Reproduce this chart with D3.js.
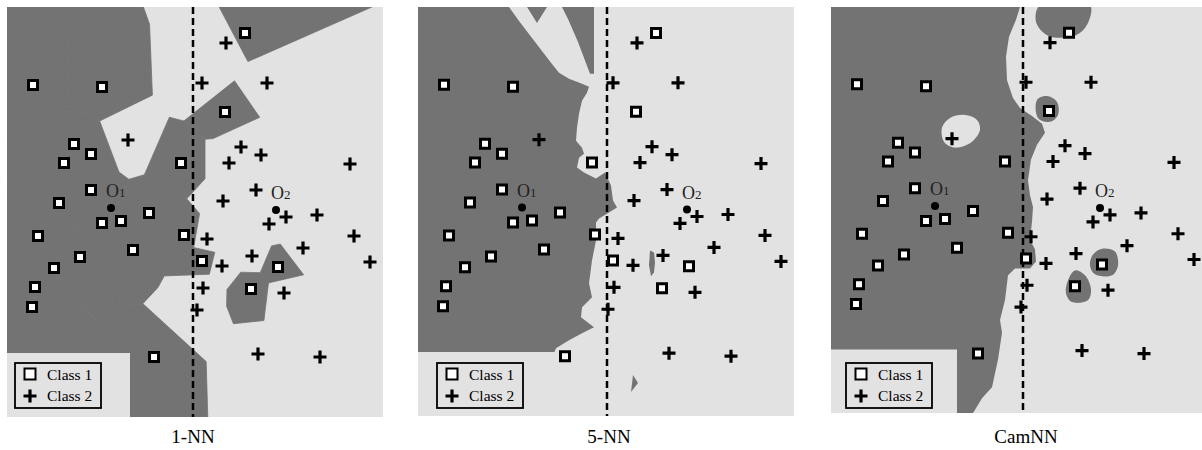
<!DOCTYPE html>
<html>
<head>
<meta charset="utf-8">
<script src="https://cdn.jsdelivr.net/npm/d3@7"></script>
<style>
  body { margin: 0; background: #fff; }
  svg { display: block; font-family: "Liberation Serif", "Times New Roman", serif; }
</style>
</head>
<body>
<svg id="chart" width="1202" height="450"></svg>
<script>
// toy 2-class problem, same feature space (0..376 x 0..410) in every panel
const class1Points = [[26,332],[95,330],[67,273],[84,263],[57,254],[174,254],[84,227],[52,214],
  [142,204],[95,194],[114,196],[31,181],[177,182],[126,167],[73,160],[47,149],[28,130],[25,110],
  [147,60],[238,384],[218,305],[195,156],[271,150],[244,128]];
const class2Points = [[121,277],[219,374],[195,334],[260,334],[234,270],[254,262],[222,254],
  [343,253],[249,227],[216,216],[279,200],[262,193],[310,202],[200,178],[347,181],[296,169],
  [245,161],[363,155],[215,151],[196,129],[277,124],[190,107],[251,63],[313,60]];
const queryPoints = [[104,209],[269,207]];
const queryLabels = ["1", "2"];
const panelTitles = ["1-NN", "5-NN", "CamNN"];
const trueBoundaryX = [186, 189, 192];

// 5-NN decision region of class 1 (traced)
const fiveNNClass1 = [
  [[0,410],[91,410],[101,396],[114,379],[124,366],[133,354],[141,344],[151,338],[164,333],[171,330],
   [169,324],[164,316],[161,303],[159,289],[158,276],[164,269],[166,263],[161,259],[159,249],[166,244],
   [178,238],[187,244],[193,231],[195,216],[199,209],[191,204],[181,198],[178,194],[178,176],[174,156],
   [171,133],[174,119],[164,109],[163,99],[176,89],[164,83],[151,76],[138,68],[133,56],[128,41],
   [126,63],[0,63]],
  [[144,410],[176,410],[176,343],[172,343],[160,375],[150,398]],
  [[109,410],[129,410],[119,394]],
  [[232,166],[236,164],[237,154],[236,144],[233,140],[231,151]],
  [[215,41],[220,33],[213,24]]
];

// CamNN decision region of class 1 (traced)
const camNNClass1Main = [[0,410],[189,410],[185,397],[178,380],[175,360],[176,336],[182,318],[189,308],
  [201,300],[211,292],[214,283],[206,271],[200,256],[197,235],[199,220],[202,208],[201,193],[199,175],
  [204,165],[205,153],[199,146],[184,146],[177,139],[174,114],[169,94],[171,81],[167,54],[161,26],
  [151,15],[142,0],[126,0],[126,64],[0,64]];
const camNNClass1Blobs = [
  [[209,412],[205,395],[217,381],[244,381],[256,392],[259,412]],
  [[206,316],[216,320],[226,314],[227,301],[219,294],[207,298]],
  [[262,160],[272,166],[284,163],[287,149],[281,139],[264,140],[259,149]],
  [[237,134],[244,144],[254,139],[260,125],[257,114],[241,112],[235,121]]
];
const camNNClass2Blobs = [
  [[111,288],[119,298],[134,301],[146,296],[149,286],[141,274],[124,268],[113,274]]
];

const darkFill = "#737373", lightFill = "#e2e2e2";

const panels = [
  { left: 7, right: 383, top: 7, bottom: 417, legendLeft: 15, shadeRight: 130, shadeTop: 353, titleShift: 0 },
  { left: 418, right: 794, top: 7, bottom: 416, legendLeft: 437, shadeRight: 560, shadeTop: 352, titleShift: 2 },
  { left: 831, right: 1207, top: 7, bottom: 413, legendLeft: 846, shadeRight: 957, shadeTop: 350, titleShift: 3 }
];

const svg = d3.select("#chart");

const squarePath = "M-4.5,-4.5H4.5V4.5H-4.5Z";
const plusPath = "M-6.5,0H6.5M0,-6.5V6.5";

panels.forEach((p, i) => {
  const x = d3.scaleLinear().domain([0, 376]).range([p.left, p.right]);
  const y = d3.scaleLinear().domain([0, 410]).range([p.bottom, p.top]);

  svg.append("clipPath").attr("id", "clip" + i)
    .append("rect")
      .attr("x", p.left).attr("y", p.top)
      .attr("width", p.right - p.left).attr("height", p.bottom - p.top);

  const g = svg.append("g").attr("class", "panel");
  const regions = g.append("g").attr("clip-path", `url(#clip${i})`);

  regions.append("rect")
    .attr("x", p.left).attr("y", p.top)
    .attr("width", p.right - p.left).attr("height", p.bottom - p.top)
    .attr("fill", lightFill);

  if (i === 0) {
    // 1-NN: union of the voronoi cells of class 1
    const all = class1Points.map(d => ({ d, c: 1 })).concat(class2Points.map(d => ({ d, c: 2 })));
    const pix = all.map(o => [x(o.d[0]), y(o.d[1])]);
    const vor = d3.Delaunay.from(pix).voronoi([p.left, p.top, p.right, p.bottom]);
    all.forEach((o, k) => {
      if (o.c !== 1) return;
      regions.append("path")
        .attr("d", vor.renderCell(k))
        .attr("fill", darkFill)
        .attr("stroke", darkFill)
        .attr("stroke-width", 0.8);
    });
  } else if (i === 1) {
    const line = d3.line().x(d => x(d[0])).y(d => y(d[1]));
    regions.selectAll("path.r").data(fiveNNClass1).join("path")
      .attr("class", "r")
      .attr("d", d => line(d) + "Z")
      .attr("fill", darkFill);
  } else {
    const line = d3.line().x(d => x(d[0])).y(d => y(d[1]));
    const blob = d3.line().x(d => x(d[0])).y(d => y(d[1])).curve(d3.curveCatmullRomClosed);
    regions.append("path").attr("d", line(camNNClass1Main) + "Z").attr("fill", darkFill);
    regions.selectAll("path.b1").data(camNNClass1Blobs).join("path")
      .attr("class", "b1").attr("d", blob).attr("fill", darkFill);
    regions.selectAll("path.b2").data(camNNClass2Blobs).join("path")
      .attr("class", "b2").attr("d", blob).attr("fill", lightFill);
  }

  // light corner behind legend
  regions.append("rect")
    .attr("x", p.left).attr("y", p.shadeTop)
    .attr("width", p.shadeRight - p.left).attr("height", p.bottom - p.shadeTop)
    .attr("fill", lightFill);

  // true boundary
  g.append("line")
    .attr("x1", x(trueBoundaryX[i])).attr("x2", x(trueBoundaryX[i]))
    .attr("y1", p.top).attr("y2", p.bottom)
    .attr("stroke", "#000").attr("stroke-width", 2.5)
    .attr("stroke-dasharray", "7,4");

  g.selectAll("path.c1").data(class1Points).join("path")
    .attr("class", "c1")
    .attr("transform", d => `translate(${x(d[0])},${y(d[1])})`)
    .attr("d", squarePath)
    .attr("fill", "#fff").attr("stroke", "#000").attr("stroke-width", 3);

  g.selectAll("path.c2").data(class2Points).join("path")
    .attr("class", "c2")
    .attr("transform", d => `translate(${x(d[0])},${y(d[1])})`)
    .attr("d", plusPath)
    .attr("fill", "none").attr("stroke", "#000").attr("stroke-width", 3.2);

  g.selectAll("circle.q").data(queryPoints).join("circle")
    .attr("class", "q")
    .attr("cx", d => x(d[0])).attr("cy", d => y(d[1]))
    .attr("r", 4).attr("fill", "#000");

  const ql = g.selectAll("text.q").data(queryPoints).join("text")
    .attr("class", "q")
    .attr("x", d => x(d[0]) - 5).attr("y", d => y(d[1]) - 11)
    .attr("font-size", 18).attr("fill", "#222");
  ql.append("tspan").text("O");
  ql.append("tspan").attr("font-size", 13).text((d, k) => queryLabels[k]);

  // legend
  const lg = g.append("g").attr("transform", `translate(${p.legendLeft},363)`);
  lg.append("rect").attr("width", 86).attr("height", 45)
    .attr("fill", lightFill).attr("stroke", "#000").attr("stroke-width", 1.8);
  lg.append("path").attr("transform", "translate(15,11)").attr("d", "M-5.5,-5.5H5.5V5.5H-5.5Z")
    .attr("fill", "#fff").attr("stroke", "#000").attr("stroke-width", 2);
  lg.append("path").attr("transform", "translate(15,33)").attr("d", plusPath)
    .attr("stroke", "#000").attr("stroke-width", 3.2);
  lg.append("text").attr("x", 32).attr("y", 17).attr("font-size", 15.5).text("Class 1");
  lg.append("text").attr("x", 32).attr("y", 38).attr("font-size", 15.5).text("Class 2");

  svg.append("text")
    .attr("x", x(trueBoundaryX[i]) + p.titleShift)
    .attr("y", 443)
    .attr("text-anchor", "middle")
    .attr("font-size", 19)
    .text(panelTitles[i]);
});
</script>
</body>
</html>
